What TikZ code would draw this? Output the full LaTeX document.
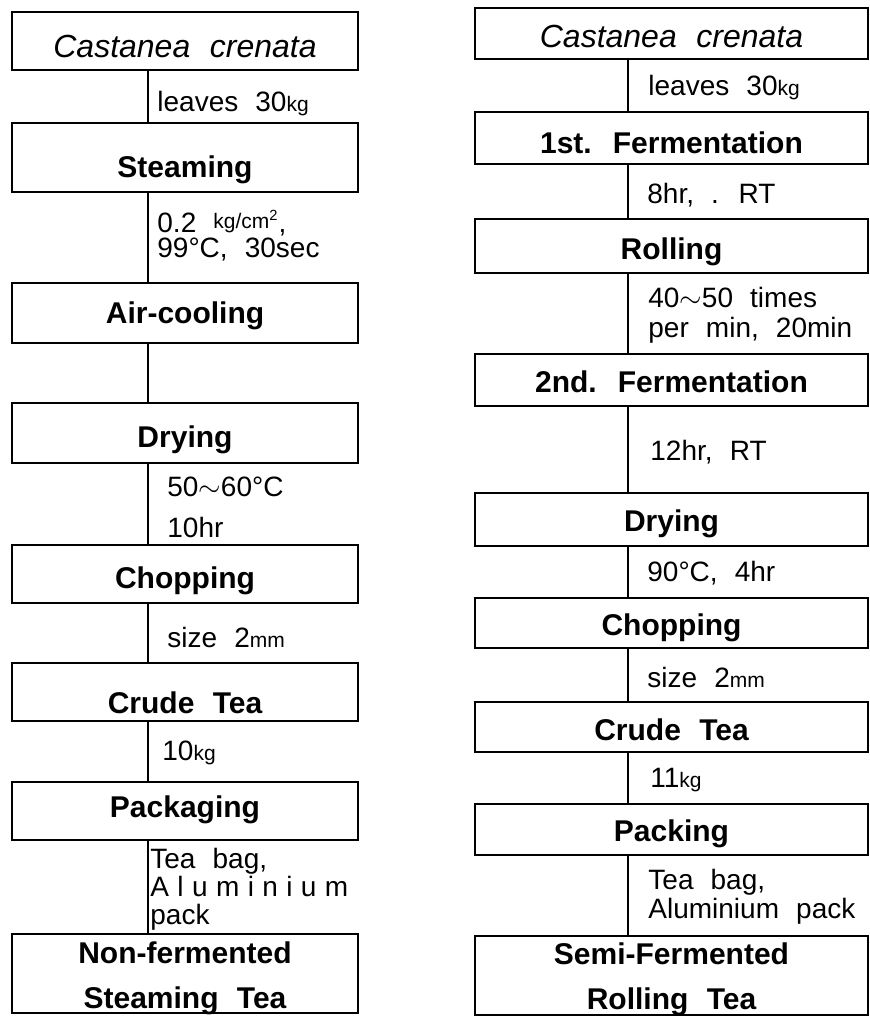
\documentclass[tikz,border=0pt]{standalone}
\usepackage{fontspec}
\setmainfont{Liberation Sans}
\newfontfamily\flowfont{Liberation Sans}[WordSpace=2.2]
\newcommand{\unitsm}[1]{{\fontsize{10.5}{11}\selectfont #1}}

\begin{document}
\begin{tikzpicture}[x=0.5pt, y=-0.5pt,
  box/.style={draw, line width=1.4pt, inner sep=0pt, minimum width=173pt, align=center,
    text depth=0pt, font=\flowfont\fontsize{15}{22.5}\selectfont\bfseries},
  rbox/.style={box, minimum width=196.5pt},
  latin/.style={font=\flowfont\fontsize{16}{18}\selectfont\itshape},
  note/.style={anchor=west, inner sep=0pt, align=left, font=\flowfont\fontsize{14}{14}\selectfont},
  link/.style={line width=1.3pt}]
\useasboundingbox (0,0) rectangle (870,1016);

% left column: non-fermented
\coordinate (lx) at (148,0);
\node[box, latin, minimum height=29pt, text height=17pt] (l1) at (185,41) {Castanea crenata};
\node[box, minimum height=34.5pt, text height=20.3pt] (l2) at (185,157.5) {Steaming};
\node[box, minimum height=30pt, text height=10.3pt] (l3) at (185,313) {Air-cooling};
\node[box, minimum height=30pt, text height=14.3pt] (l4) at (185,433) {Drying};
\node[box, minimum height=29pt, text height=14.3pt] (l5) at (185,574) {Chopping};
\node[box, minimum height=29pt, text height=21.3pt] (l6) at (185,692) {Crude Tea};
\node[box, minimum height=29pt, text height=6.3pt] (l7) at (185,811) {Packaging};
\node[box, minimum height=39.5pt, text height=34.8pt, font=\flowfont\fontsize{15}{22.25}\selectfont\bfseries] (l8) at (185,973.5) {Non-fermented\\Steaming Tea};

\foreach \a/\b in {l1/l2, l2/l3, l3/l4, l4/l5, l5/l6, l6/l7, l7/l8}
  \draw[link] (\a.south -| lx) -- (\b.north -| lx);

\node[note] (ln1) at (157,104) {leaves 30\unitsm{kg}};
\node[note, font=\flowfont\fontsize{14}{12.5}\selectfont] (ln2) at (157,236)
  {0.2 \raisebox{2pt}{\unitsm{kg/cm\textsuperscript{2}}},\\99°C, 30sec};
\node[note] (ln3) at (167,487) {50$\sim$60°C};
\node[note] (ln4) at (167,527) {10hr};
\node[note] (ln5) at (167,637) {size 2\unitsm{mm}};
\node[note] (ln6) at (162,753) {10\unitsm{kg}};
\node[note] (ln7) at (150,889) {Tea bag,\\{\addfontfeature{LetterSpace=30}Aluminium}\\pack};

% right column: semi-fermented
\coordinate (rx) at (628,0);
\node[rbox, latin, minimum height=25.5pt, text height=14pt] (r1) at (671.5,33.5) {Castanea crenata};
\node[rbox, minimum height=26pt, text height=15.3pt] (r2) at (671.5,138) {1st. Fermentation};
\node[rbox, minimum height=27pt, text height=13.8pt] (r3) at (671.5,246) {Rolling};
\node[rbox, minimum height=26pt, text height=12.8pt] (r4) at (671.5,380) {2nd. Fermentation};
\node[rbox, minimum height=26.5pt, text height=12.3pt] (r5) at (671.5,519.5) {Drying};
\node[rbox, minimum height=25pt, text height=12.8pt] (r6) at (671.5,623) {Chopping};
\node[rbox, minimum height=25pt, text height=13.3pt] (r7) at (671.5,727) {Crude Tea};
\node[rbox, minimum height=25.5pt, text height=12.3pt] (r8) at (671.5,829.5) {Packing};
\node[rbox, minimum height=39.5pt, text height=34pt, font=\flowfont\fontsize{15}{22.5}\selectfont\bfseries] (r9) at (671.5,975.5) {Semi-Fermented\\Rolling Tea};

\foreach \a/\b in {r1/r2, r2/r3, r3/r4, r4/r5, r5/r6, r6/r7, r7/r8, r8/r9}
  \draw[link] (\a.south -| rx) -- (\b.north -| rx);

\node[note] (rn1) at (648,88) {leaves 30\unitsm{kg}};
\node[note] (rn2) at (647,195) {8hr, . RT};
\node[note, font=\flowfont\fontsize{14}{15}\selectfont] (rn3) at (648,315) {40$\sim$50 times\\per min, 20min};
\node[note] (rn4) at (650,452) {12hr, RT};
\node[note] (rn5) at (647,573) {90°C, 4hr};
\node[note] (rn6) at (647,677) {size 2\unitsm{mm}};
\node[note] (rn7) at (650,780) {11\unitsm{kg}};
\node[note, font=\flowfont\fontsize{14}{14.5}\selectfont] (rn8) at (648,897) {Tea bag,\\Aluminium pack};
\end{tikzpicture}
\end{document}
